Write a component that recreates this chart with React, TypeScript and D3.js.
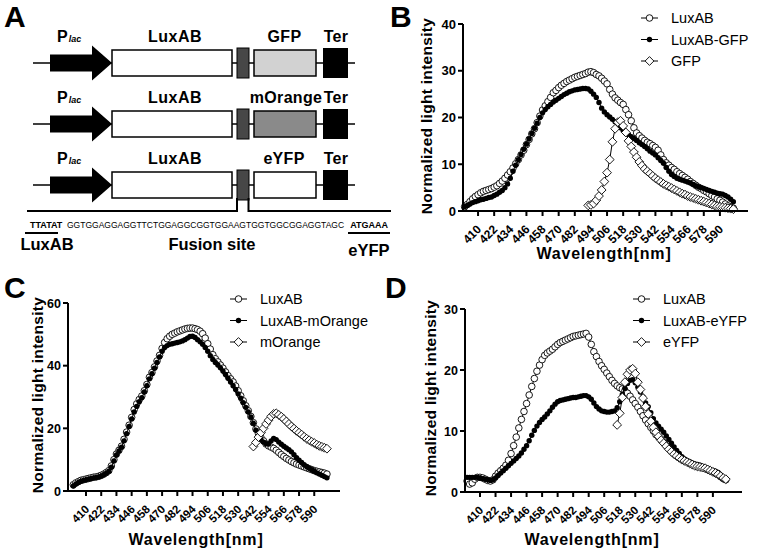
import React from 'react';
import * as d3 from 'd3';

const FONT = "'Liberation Sans', Arial, Helvetica, sans-serif";

// x grid of the spectra (nm)
const WAVELENGTHS = d3.range(400, 601, 2);
const X_TICKS = [410, 422, 434, 446, 458, 470, 482, 494, 506, 518, 530, 542, 554, 566, 578, 590];

// Panel B
const B_LUXAB = [
  0.9, 1.4, 2.0, 2.6, 3.1, 3.5, 3.9, 4.2, 4.4, 4.6,
  4.8, 5.1, 5.4, 5.9, 6.4, 7.0, 7.7, 8.4, 9.2, 10.1,
  11.0, 12.0, 13.0, 14.2, 15.3, 16.5, 17.6, 18.9, 20.3, 21.6,
  22.5, 23.4, 24.3, 25.3, 25.8, 26.4, 26.9, 27.3, 27.7, 28.0,
  28.3, 28.6, 28.8, 29.0, 29.2, 29.4, 29.7, 29.8, 29.6, 29.2,
  28.9, 28.4, 27.8, 27.2, 26.0, 25.0, 24.2, 23.7, 23.2, 22.8,
  21.7, 20.6, 19.3, 17.8, 16.7, 16.1, 15.6, 15.1, 14.7, 14.4,
  14.0, 13.6, 13.0, 12.0, 11.0, 10.3, 9.8, 9.3, 8.9, 8.4,
  8.0, 7.6, 7.2, 6.8, 6.3, 5.9, 5.5, 5.1, 4.8, 4.4,
  4.1, 3.7, 3.3, 3.0, 2.6, 2.3, 1.9, 1.5, 1.1, 0.8,
  0.6,
];
const B_LUXAB_GFP = [
  0.9, 1.2, 1.5, 1.8, 2.0, 2.2, 2.4, 2.5, 2.7, 2.9,
  3.0, 3.3, 3.6, 4.0, 4.4, 5.0, 5.8, 7.0, 8.5, 9.8,
  11.0, 12.1, 13.2, 14.3, 15.4, 16.6, 17.7, 18.8, 20.0, 21.0,
  21.7, 22.3, 22.8, 23.3, 23.7, 24.1, 24.5, 24.9, 25.2, 25.5,
  25.7, 25.9, 26.0, 26.1, 26.2, 26.2, 26.1, 25.6, 25.0, 24.3,
  23.2, 22.0, 21.2, 20.6, 20.1, 19.6, 19.1, 18.5, 17.8, 17.2,
  16.7, 16.3, 15.9, 15.5, 15.1, 14.6, 14.2, 13.8, 13.3, 12.8,
  12.4, 12.0, 11.4, 10.8, 10.2, 9.3, 8.5, 7.8, 7.4, 7.0,
  6.8, 6.6, 6.4, 6.2, 6.0, 5.7, 5.4, 5.2, 5.0, 4.8,
  4.6, 4.4, 4.2, 4.0, 3.8, 3.7, 3.6, 3.3, 3.0, 2.5,
  2.0,
];
const B_GFP_START = 492;
const B_GFP = [
  1.2, 1.3, 1.6, 2.3, 3.2, 4.5, 6.3, 8.2, 11.0, 14.8,
  17.6, 19.0, 19.3, 18.2, 16.8, 15.0, 13.8, 12.6, 11.5, 10.5,
  9.7, 9.0, 8.5, 8.0, 7.5, 7.0, 6.6, 6.2, 5.8, 5.5,
  5.2, 4.9, 4.6, 4.3, 4.0, 3.7, 3.5, 3.2, 3.0, 2.8,
  2.6, 2.4, 2.2, 2.0, 1.8, 1.6, 1.4, 1.2, 1.0, 0.9,
  0.8, 0.7, 0.6, 0.5, 0.4,
];

// Panel C
const C_LUXAB = [
  2.0, 2.6, 3.0, 3.4, 3.6, 3.8, 4.0, 4.2, 4.4, 4.5,
  4.7, 5.0, 5.4, 5.9, 6.5, 8.0, 10.0, 11.8, 13.0, 14.3,
  16.5, 18.8, 21.0, 23.5, 26.0, 27.8, 29.2, 30.3, 32.0, 34.0,
  36.3, 37.8, 39.6, 41.5, 43.3, 45.5, 47.4, 48.6, 49.4, 50.0,
  50.4, 50.8, 51.1, 51.4, 51.7, 51.9, 52.0, 52.0, 51.8, 51.5,
  51.0, 50.2, 48.8, 47.0, 45.3, 43.5, 42.2, 41.2, 40.2, 39.2,
  38.0, 36.8, 35.8, 34.8, 33.5, 32.0, 30.4, 28.8, 27.2, 25.6,
  23.8, 21.8, 19.8, 18.3, 17.0, 16.0, 15.0, 14.4, 14.0, 13.6,
  13.0, 12.3, 11.6, 11.0, 10.4, 9.9, 9.4, 9.0, 8.6, 8.3,
  8.0, 7.7, 7.4, 7.1, 6.8, 6.5, 6.3, 6.1, 5.9, 5.7,
  5.4,
];
const C_LUXAB_MORANGE = [
  1.6, 2.2, 2.7, 3.1, 3.4, 3.6, 3.8, 4.0, 4.2, 4.3,
  4.5, 4.8, 5.2, 5.7, 6.3, 7.6, 9.6, 11.5, 12.8, 14.0,
  16.0, 18.3, 20.6, 23.0, 25.2, 27.0, 28.5, 29.8, 31.6, 33.6,
  35.8, 37.4, 39.2, 41.0, 42.8, 44.6, 45.8, 46.4, 46.8, 47.0,
  47.2, 47.4, 47.6, 47.9, 48.3, 48.8, 49.3, 49.4, 49.0, 48.3,
  47.6, 46.8, 45.8, 44.6, 43.2, 42.0, 41.0, 40.2, 39.3, 38.3,
  37.2, 36.0, 34.8, 33.6, 32.4, 31.0, 29.6, 28.2, 26.7, 25.2,
  23.6, 21.6, 19.4, 17.6, 16.4, 15.6, 15.1, 15.0, 16.0, 16.8,
  16.4, 15.6, 14.9, 14.3, 13.7, 13.2, 12.5, 11.6, 10.6, 9.8,
  9.1, 8.4, 7.8, 7.3, 6.8, 6.3, 5.8, 5.4, 5.0, 4.6,
  4.2,
];
const C_MORANGE_START = 542;
const C_MORANGE = [
  14.2, 15.5, 17.2, 18.6, 20.0, 21.4, 22.6, 23.8, 24.6, 24.8,
  24.3, 23.7, 23.0, 22.2, 21.4, 20.6, 19.9, 19.2, 18.6, 18.0,
  17.3, 16.7, 16.2, 15.7, 15.3, 14.8, 14.4, 14.1, 13.8, 13.5,
];

// Panel D
const D_LUXAB = [
  1.8, 1.3, 1.5, 2.1, 2.4, 2.4, 2.3, 2.1, 1.9, 1.8,
  2.0, 2.6, 3.1, 3.5, 3.9, 4.4, 5.2, 6.3, 7.6, 9.0,
  10.5, 11.9, 13.2, 14.5, 15.9, 17.3, 18.6, 19.8, 20.8, 21.7,
  22.4, 22.8, 23.1, 23.4, 23.8, 24.2, 24.5, 24.7, 24.9, 25.1,
  25.3, 25.5, 25.6, 25.7, 25.8, 25.9, 26.0, 25.4, 24.2, 23.0,
  22.2, 21.4, 20.7, 20.1, 19.5, 18.9, 18.3, 17.8, 17.4, 17.1,
  16.9, 16.6, 16.2, 15.7, 15.1, 14.5, 13.9, 13.2, 12.5, 11.8,
  11.2, 10.6, 10.0, 9.4, 9.0, 8.5, 8.1, 7.6, 7.2, 6.8,
  6.5, 6.1, 5.8, 5.5, 5.2, 5.0, 4.8, 4.6, 4.4, 4.2,
  4.1, 4.0, 3.9, 3.7, 3.5, 3.3, 3.1, 2.9, 2.5, 2.2,
  2.0,
];
const D_LUXAB_EYFP = [
  2.4, 2.4, 2.4, 2.4, 2.4, 2.3, 2.2, 2.1, 2.0, 1.9,
  2.0, 2.3, 2.7, 3.1, 3.5, 3.9, 4.3, 4.7, 5.1, 5.5,
  5.9, 6.4, 7.0, 7.6, 8.4, 9.3, 10.1, 10.8, 11.4, 11.9,
  12.3, 12.8, 13.3, 13.9, 14.4, 14.8, 15.0, 15.1, 15.2, 15.3,
  15.4, 15.5, 15.5, 15.6, 15.7, 15.8, 15.8, 15.6, 15.2, 14.6,
  14.0, 13.6, 13.3, 13.2, 13.1, 13.1, 13.2, 13.3, 13.8, 14.8,
  16.0, 17.0, 17.8, 18.3, 18.4, 17.9, 17.2, 16.4, 15.6, 14.6,
  14.0, 13.0, 12.0, 11.3, 10.8, 10.3, 9.8, 9.2, 8.6, 8.0,
  7.4, 6.8, 6.3, 5.8, 5.4, 5.1, 4.9, 4.7, 4.6, 4.5,
  4.4, 4.2, 4.0, 3.8, 3.6, 3.5, 3.4, 3.2, 2.8, 2.4,
  2.2,
];
const D_EYFP_START = 516;
const D_EYFP = [
  11.0, 12.9, 15.5, 18.0, 19.3, 20.0, 20.2, 19.4, 18.0, 16.8,
  15.4, 14.0, 12.8, 11.6, 10.6, 9.8, 9.1, 8.5, 8.0, 7.5,
  7.0, 6.6, 6.2, 5.9, 5.6, 5.3, 5.1, 4.9, 4.7, 4.5,
  4.3, 4.2, 4.1, 4.0, 3.9, 3.7, 3.5, 3.3, 3.1, 2.9,
  2.6, 2.3, 2.1,
];

const B_TICKS_Y = [0, 10, 20, 30, 40];
const C_TICKS_Y = [0, 20, 40, 60];
const D_TICKS_Y = [0, 10, 20, 30];

type Marker = 'open' | 'filled' | 'diamond';
interface Series { name: string; values: number[]; start: number; marker: Marker; }

function toPoints(s: Series) {
  return s.values.map((v, i) => ({ x: s.start + 2 * i, y: v }));
}

function MarkerShape({ type, cx, cy }: { type: Marker; cx: number; cy: number }) {
  if (type === 'open') return <circle cx={cx} cy={cy} r={3.3} fill="#fff" stroke="#000" strokeWidth={0.9} />;
  if (type === 'filled') return <circle cx={cx} cy={cy} r={2.7} fill="#000" />;
  const r = 4.4;
  return <path d={`M${cx},${cy - r}L${cx + r},${cy}L${cx},${cy + r}L${cx - r},${cy}Z`} fill="#fff" stroke="#000" strokeWidth={0.9} />;
}

interface PanelProps {
  left: number; right: number; top: number; bottom: number;
  x0: number; x1: number; yMax: number; yTicks: number[];
  series: Series[];
  legendX: number; legendY: number;
  yLabel: [number, number]; xLabel: [number, number];
  fs: number;
}

function SpectrumPanel(p: PanelProps) {
  const x = d3.scaleLinear().domain([p.x0, p.x1]).range([p.left, p.right]);
  const y = d3.scaleLinear().domain([0, p.yMax]).range([p.bottom, p.top]);
  const line = d3.line<{ x: number; y: number }>().x(d => x(d.x)).y(d => y(d.y));
  return (
    <g fontFamily={FONT}>
      {p.series.map(s => {
        const pts = toPoints(s);
        return (
          <g key={s.name}>
            <path d={line(pts) || ''} fill="none" stroke="#000" strokeWidth={1} />
            {pts.map((d, i) => <MarkerShape key={i} type={s.marker} cx={x(d.x)} cy={y(d.y)} />)}
          </g>
        );
      })}
      {/* axes */}
      <line x1={p.left} x2={p.right} y1={p.bottom} y2={p.bottom} stroke="#000" strokeWidth={2} />
      <line x1={p.left} x2={p.left} y1={p.top} y2={p.bottom} stroke="#000" strokeWidth={2} />
      {p.yTicks.map(t => (
        <g key={t}>
          <line x1={p.left - 5} x2={p.left} y1={y(t)} y2={y(t)} stroke="#000" strokeWidth={2} />
          <text x={p.left - 7} y={y(t)} dy="0.36em" textAnchor="end" fontWeight="bold" fontSize={p.fs + 0.5}>{t}</text>
        </g>
      ))}
      {X_TICKS.map(t => (
        <g key={t}>
          <line x1={x(t)} x2={x(t)} y1={p.bottom} y2={p.bottom + 5} stroke="#000" strokeWidth={2} />
          <text transform={`translate(${x(t) + 4},${p.bottom + 19}) rotate(-45)`} textAnchor="end" fontWeight="bold" fontSize={p.fs - 0.5}>{t}</text>
        </g>
      ))}
      <text transform={`translate(${p.yLabel[0]},${p.yLabel[1]}) rotate(-90)`} textAnchor="middle" dy="0.35em" fontWeight="bold" fontSize={15.5} letterSpacing={0.3}>Normalized light intensity</text>
      <text x={p.xLabel[0]} y={p.xLabel[1]} textAnchor="middle" fontWeight="bold" fontSize={16} letterSpacing={0.8}>Wavelength[nm]</text>
      {/* legend */}
      {p.series.map((s, i) => {
        const ly = p.legendY + i * 21.5;
        return (
          <g key={'lg' + s.name}>
            <line x1={p.legendX} x2={p.legendX + 17} y1={ly} y2={ly} stroke="#000" strokeWidth={1} />
            <MarkerShape type={s.marker} cx={p.legendX + 8.5} cy={ly} />
            <text x={p.legendX + 30} y={ly} dy="0.36em" fontSize={14.5}>{s.name}</text>
          </g>
        );
      })}
    </g>
  );
}

function Construct({ cy, fp, fpFill, fpCenter, extendLink }: { cy: number; fp: string; fpFill: string; fpCenter: number; extendLink?: boolean }) {
  const base = cy - 21.5;
  return (
    <g fontFamily={FONT}>
      <line x1={33} x2={355} y1={cy} y2={cy} stroke="#000" strokeWidth={1.5} />
      <path d={`M50,${cy - 8.5}H92V${cy - 17.5}L112,${cy}L92,${cy + 17.5}V${cy + 8.5}H50Z`} fill="#000" />
      <rect x={112} y={cy - 13} width={120} height={26} fill="#fff" stroke="#000" strokeWidth={1.5} />
      <rect x={237} y={cy - 15} width={12} height={30} fill="#474747" stroke="#000" strokeWidth={1} />
      <rect x={254} y={cy - 13} width={62} height={26} fill={fpFill} stroke="#000" strokeWidth={1.5} />
      <rect x={323} y={cy - 15} width={25} height={30} fill="#000" />
      <text x={57} y={base} fontWeight="bold" fontSize={16}>P<tspan fontSize={9} fontStyle="italic" dx={1}>lac</tspan></text>
      <text x={175} y={base} textAnchor="middle" fontWeight="bold" fontSize={16} letterSpacing={0.5}>LuxAB</text>
      <text x={fpCenter} y={base} textAnchor="middle" fontWeight="bold" fontSize={16} letterSpacing={0.3}>{fp}</text>
      <text x={336} y={base} textAnchor="middle" fontWeight="bold" fontSize={16} letterSpacing={0.3}>Ter</text>
      {extendLink && (
        <path d={`M27,211H237V${cy + 13}M248.5,${cy + 13}V211H391`} fill="none" stroke="#000" strokeWidth={2} />
      )}
    </g>
  );
}

function PanelA() {
  return (
    <g>
      <Construct cy={63} fp="GFP" fpFill="#d2d2d2" fpCenter={284.5} />
      <Construct cy={124} fp="mOrange" fpFill="#8a8a8a" fpCenter={286} />
      <Construct cy={185} fp="eYFP" fpFill="#fff" fpCenter={284} extendLink />
      <g fontFamily={FONT}>
        <text x={30} y={227.5} fontSize={9} fontWeight="bold">TTATAT</text>
        <text x={67} y={227.5} fontSize={8.5}>GGTGGAGGAGGTTCTGGAGGCGGTGGAAGTGGTGGCGGAGGTAGC</text>
        <text x={388} y={227.5} fontSize={9} fontWeight="bold" textAnchor="end">ATGAAA</text>
        <line x1={25} x2={58} y1={233} y2={233} stroke="#000" strokeWidth={2} />
        <line x1={348} x2={390} y1={233} y2={233} stroke="#000" strokeWidth={2} />
        <text x={47} y={250} textAnchor="middle" fontWeight="bold" fontSize={16.5}>LuxAB</text>
        <text x={212} y={250} textAnchor="middle" fontWeight="bold" fontSize={16.5}>Fusion site</text>
        <text x={369} y={256} textAnchor="middle" fontWeight="bold" fontSize={16.5}>eYFP</text>
      </g>
    </g>
  );
}

export default function App() {
  const bSeries: Series[] = [
    { name: 'LuxAB', values: B_LUXAB, start: WAVELENGTHS[0], marker: 'open' },
    { name: 'LuxAB-GFP', values: B_LUXAB_GFP, start: WAVELENGTHS[0], marker: 'filled' },
    { name: 'GFP', values: B_GFP, start: B_GFP_START, marker: 'diamond' },
  ];
  const cSeries: Series[] = [
    { name: 'LuxAB', values: C_LUXAB, start: WAVELENGTHS[0], marker: 'open' },
    { name: 'LuxAB-mOrange', values: C_LUXAB_MORANGE, start: WAVELENGTHS[0], marker: 'filled' },
    { name: 'mOrange', values: C_MORANGE, start: C_MORANGE_START, marker: 'diamond' },
  ];
  const dSeries: Series[] = [
    { name: 'LuxAB', values: D_LUXAB, start: WAVELENGTHS[0], marker: 'open' },
    { name: 'LuxAB-eYFP', values: D_LUXAB_EYFP, start: WAVELENGTHS[0], marker: 'filled' },
    { name: 'eYFP', values: D_EYFP, start: D_EYFP_START, marker: 'diamond' },
  ];
  return (
    <svg width={760} height={550} viewBox="0 0 760 550" style={{ position: 'absolute', left: 0, top: 0, background: '#fff' }}>
      <rect width={760} height={550} fill="#fff" />
      <g fontFamily={FONT} fontWeight="bold" fontSize={30}>
        <text x={4} y={27}>A</text>
        <text x={390} y={27}>B</text>
        <text x={4} y={298}>C</text>
        <text x={385} y={298}>D</text>
      </g>
      <PanelA />
      <SpectrumPanel left={463} right={748} top={24} bottom={211} x0={398.8} x1={610.9} yMax={40} yTicks={B_TICKS_Y}
        series={bSeries} legendX={641} legendY={18} yLabel={[427, 116]} xLabel={[604, 259]} fs={12.5} />
      <SpectrumPanel left={68} right={340} top={303} bottom={491} x0={395.8} x1={610.3} yMax={60} yTicks={C_TICKS_Y}
        series={cSeries} legendX={230} legendY={299} yLabel={[38, 395]} xLabel={[196, 545]} fs={12} />
      <SpectrumPanel left={465} right={742} top={309} bottom={492} x0={398.4} x1={612.5} yMax={30} yTicks={D_TICKS_Y}
        series={dSeries} legendX={633} legendY={299} yLabel={[431, 398]} xLabel={[592, 545]} fs={12} />
    </svg>
  );
}
